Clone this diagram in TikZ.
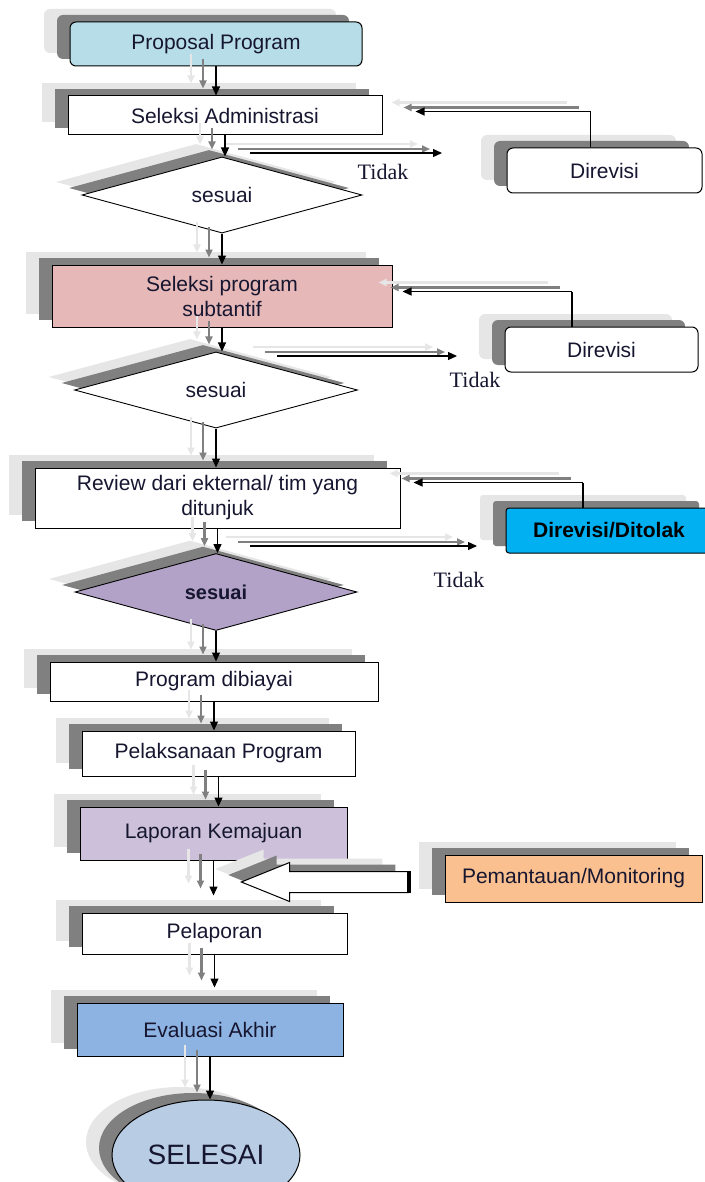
\documentclass[tikz,border=0pt]{standalone}
\usepackage{fontspec}
\setmainfont{Liberation Sans}
\newfontfamily\hurufserif{Liberation Serif}
\usepackage{tikz}
\usetikzlibrary{arrows.meta,shapes.geometric,shapes.arrows}
\definecolor{tinta}{RGB}{22,22,48}
\definecolor{abutua}{RGB}{128,128,128}
\definecolor{abumuda}{RGB}{230,230,230}
\definecolor{biruusul}{RGB}{183,221,232}
\definecolor{merahmuda}{RGB}{230,184,183}
\definecolor{ungu}{RGB}{178,162,199}
\definecolor{ungumuda}{RGB}{204,192,218}
\definecolor{biruakhir}{RGB}{141,179,226}
\definecolor{birusel}{RGB}{184,204,228}
\definecolor{birutolak}{RGB}{0,176,240}
\definecolor{jingga}{RGB}{250,192,144}

\begin{document}
\begin{tikzpicture}[x=1pt, y=-1pt,
    font=\fontsize{21}{25}\selectfont, text=tinta,
    bayang/.style={preaction={fill=abumuda, transform canvas={xshift=-26pt, yshift=13pt}},
                   preaction={fill=abutua, transform canvas={xshift=-13pt, yshift=7pt}}},
    kotak/.style={bayang, draw=black, line width=1pt, fill=white, inner sep=0pt, align=center},
    bulat/.style={kotak, rounded corners=6pt},
    belah/.style={bayang, diamond, draw=black, line width=0.9pt, fill=white, inner sep=0pt},
    garis/.style={draw=black, line width=1.2pt},
    panah/.style={garis, -{Triangle[length=9pt,width=8pt]},
                  preaction={draw=abumuda, line width=2.6pt, -{Triangle[length=8pt,width=7pt]},
                             transform canvas={xshift=-25pt, yshift=12pt}},
                  preaction={draw=abutua, line width=2.6pt, -{Triangle[length=8pt,width=7pt]},
                             transform canvas={xshift=-13pt, yshift=7pt}}},
    panahdatar/.style={garis, -{Triangle[length=9pt,width=8pt]},
                  preaction={draw=abumuda, line width=2.6pt, -{Triangle[length=8pt,width=7pt]},
                             transform canvas={xshift=-24pt, yshift=9pt}},
                  preaction={draw=abutua, line width=2.6pt, -{Triangle[length=8pt,width=7pt]},
                             transform canvas={xshift=-12pt, yshift=4pt}}},
    tidak/.style={font=\hurufserif\fontsize{22}{24}\selectfont}]
  \fill[white] (0,0) rectangle (704,1182);
  \useasboundingbox (0,0) rectangle (704,1182);
  % alur utama
  \node[bulat, fill=biruusul, minimum width=292pt, minimum height=44pt] (usul) at (216,44) {Proposal Program};
  \node[kotak, minimum width=314pt, minimum height=39pt] (seladm) at (225,115.5) {Seleksi Administrasi};
  \node[belah, minimum width=280pt, minimum height=62pt] (cek1) at (222,195) {sesuai};
  \node[kotak, fill=merahmuda, minimum width=340pt, minimum height=62pt] (selprog) at (222,296) {Seleksi program\\subtantif};
  \node[belah, minimum width=283pt, minimum height=72pt] (cek2) at (216,390) {sesuai};
  \node[kotak, minimum width=365pt, minimum height=60pt] (review) at (217.5,498) {Review dari ekternal/ tim yang\\ditunjuk};
  \node[belah, fill=ungu, minimum width=282pt, minimum height=70pt, font=\bfseries\fontsize{20}{24}\selectfont] (cek3) at (216,592) {sesuai};
  \node[kotak, minimum width=328pt, minimum height=39pt] (biaya) at (214,681.5) {Program dibiayai};
  \node[kotak, minimum width=273pt, minimum height=45pt] (laksana) at (218.5,753.5) {Pelaksanaan Program};
  \node[kotak, fill=ungumuda, minimum width=267pt, minimum height=53pt] (lapmaju) at (213.5,833.5) {Laporan Kemajuan};
  \node[kotak, minimum width=265pt, minimum height=41pt] (lapor) at (214.5,933.5) {Pelaporan};
  \node[kotak, fill=biruakhir, minimum width=266pt, minimum height=53pt] (evaluasi) at (210,1029.5) {Evaluasi Akhir};
  \node[bayang, ellipse, draw=black, line width=1pt, fill=birusel, minimum width=188pt, minimum height=110pt,
        font=\fontsize{28}{30}\selectfont] (selesai) at (206,1155) {SELESAI};
  % kotak samping
  \node[bulat, minimum width=195pt, minimum height=45pt] (revisi1) at (604.5,170.5) {Direvisi};
  \node[bulat, minimum width=193pt, minimum height=45pt] (revisi2) at (601.5,349.5) {Direvisi};
  \node[bulat, fill=birutolak, minimum width=206pt, minimum height=45pt, rounded corners=3pt,
        font=\bfseries\fontsize{21}{25}\selectfont, text=black] (tolak) at (609,530.5) {Direvisi/Ditolak};
  \node[kotak, fill=jingga, minimum width=257pt, minimum height=47pt] (pantau) at (573.5,878.5) {Pemantauan/Monitoring};
  \node[bayang, single arrow, shape border rotate=180, draw=black, line width=1pt, fill=white,
        minimum height=167pt, inner sep=0pt, inner ysep=10pt, single arrow head extend=9pt,
        single arrow tip angle=44, anchor=tip] (blok) at (240,882) {};
  \draw[line width=3.5pt] (blok.before tail) -- (blok.after tail);
  % panah turun
  \foreach \a/\b in {usul/seladm, seladm/cek1, cek1/selprog, selprog/cek2, cek2/review,
                     review/cek3, cek3/biaya, biaya/laksana, laksana/lapmaju, evaluasi/selesai}
    \draw[panah] (\a.south) -- (\a.south |- \b.north);
  \draw[panah, shorten >=17pt] (lapmaju.south) -- (lapmaju.south |- lapor.north);
  \draw[panah, shorten >=15pt] (lapor.south) -- (lapor.south |- evaluasi.north);
  % cabang tidak
  \coordinate (t1a) at (250,153);
  \coordinate (t1b) at (442,153);
  \coordinate (t2a) at (277,356);
  \coordinate (t2b) at (457,356);
  \coordinate (t3a) at (250,546);
  \coordinate (t3b) at (477,546);
  \draw[panahdatar] (t1a) -- (t1b);
  \draw[panahdatar] (t2a) -- (t2b);
  \draw[panahdatar] (t3a) -- (t3b);
  \node[tidak] (tidak1) at (383,172) {Tidak};
  \node[tidak] (tidak2) at (475,380) {Tidak};
  \node[tidak] (tidak3) at (459,580) {Tidak};
  % balik ke atas
  \draw[garis] ([xshift=-14pt]revisi1.north) -- ++(0,-36) coordinate (b1);
  \draw[panahdatar] (b1) -- ([xshift=33pt]seladm.east |- b1);
  \draw[garis] ([xshift=-29.5pt]revisi2.north) -- ++(0,-35) coordinate (b2);
  \draw[panahdatar] (b2) -- ([xshift=10pt]selprog.east |- b2);
  \draw[garis] ([xshift=-26pt]tolak.north) -- ++(0,-25) coordinate (b3);
  \draw[panahdatar] (b3) -- ([xshift=13pt]review.east |- b3);
\end{tikzpicture}
\end{document}
